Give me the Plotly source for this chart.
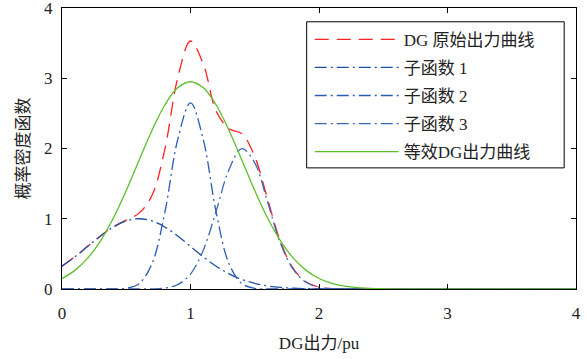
import plotly.graph_objects as go

x_pu = [0.0, 0.1, 0.2, 0.3, 0.4, 0.5, 0.6, 0.7, 0.8, 0.9,
        1.0, 1.1, 1.2, 1.3, 1.4, 1.5, 1.6, 1.7, 1.8, 1.9,
        2.0, 2.1, 2.2, 2.3, 2.4, 2.5, 2.6, 2.7, 2.8, 2.9,
        3.0, 3.1, 3.2, 3.3, 3.4, 3.5, 3.6, 3.7, 3.8, 3.9, 4.0]

dg_original = [0.325, 0.458, 0.607, 0.755, 0.885, 0.98, 1.08, 1.33, 1.985, 3.0,
               3.53, 3.2, 2.53, 2.28, 2.21, 1.885, 1.28, 0.675, 0.29, 0.10,
               0.027, 0.006, 0.001, 0, 0, 0, 0, 0, 0, 0,
               0, 0, 0, 0, 0, 0, 0, 0, 0, 0, 0]

sub1 = [0.325, 0.458, 0.607, 0.755, 0.882, 0.969, 1.0, 0.969, 0.882, 0.755,
        0.607, 0.458, 0.325, 0.216, 0.135, 0.080, 0.044, 0.023, 0.011, 0.005,
        0.002, 0.001, 0, 0, 0, 0, 0, 0, 0, 0,
        0, 0, 0, 0, 0, 0, 0, 0, 0, 0, 0]

sub2 = [0, 0, 0, 0, 0.001, 0.010, 0.076, 0.359, 1.089, 2.122,
        2.65, 2.122, 1.089, 0.359, 0.076, 0.010, 0.001, 0, 0, 0,
        0, 0, 0, 0, 0, 0, 0, 0, 0, 0,
        0, 0, 0, 0, 0, 0, 0, 0, 0, 0, 0]

sub3 = [0, 0, 0, 0, 0, 0, 0, 0.002, 0.014, 0.062,
        0.213, 0.555, 1.111, 1.702, 1.997, 1.795, 1.236, 0.652, 0.28, 0.095,
        0.025, 0.005, 0.001, 0, 0, 0, 0, 0, 0, 0,
        0, 0, 0, 0, 0, 0, 0, 0, 0, 0, 0]

equivalent = [0.148, 0.265, 0.439, 0.686, 1.010, 1.402, 1.833, 2.257, 2.619, 2.863,
              2.95, 2.863, 2.619, 2.257, 1.833, 1.402, 1.010, 0.686, 0.439, 0.265,
              0.150, 0.081, 0.040, 0.019, 0.009, 0.004, 0.001, 0, 0, 0,
              0, 0, 0, 0, 0, 0, 0, 0, 0, 0, 0]

names = ["DG 原始出力曲线", "子函数 1", "子函数 2", "子函数 3", "等效DG出力曲线"]
x_ticks = [0, 1, 2, 3, 4]
y_ticks = [0, 1, 2, 3, 4]

FONT = "Times New Roman, Liberation Serif, Noto Sans CJK SC, serif"

series = [
    (dg_original, names[0], "#ff2020", "14px,8px"),
    (sub1, names[1], "#1f4fa8", "12px,4px,2px,4px"),
    (sub2, names[2], "#2a5cb8", "12px,4px,2px,4px"),
    (sub3, names[3], "#3a66b8", "12px,4px,2px,4px"),
    (equivalent, names[4], "#5cbf2a", "solid"),
]

fig = go.Figure()
for i, (ys, nm, col, dash) in enumerate(series):
    fig.add_trace(go.Scatter(
        x=x_pu, y=ys, name=nm, mode="lines",
        line=dict(color=col, width=1.3, dash=dash, shape="spline", smoothing=1),
        legendgroup=f"g{i}",
    ))

axis_common = dict(
    showline=True, linecolor="black", linewidth=1, mirror="ticks",
    ticks="inside", ticklen=5, tickcolor="black", showgrid=False, zeroline=False,
    tickfont=dict(family=FONT, size=17, color="#222"), automargin=False,
    ticklabeloverflow="allow",
)

# legend frame (wider than Plotly's auto-sized box)
fig.add_shape(type="rect", xref="paper", yref="paper",
              x0=0.476, x1=0.977, y0=0.431, y1=0.951,
              line=dict(color="black", width=1), fillcolor="white", layer="above")

fig.update_layout(
    width=587, height=359,
    margin=dict(l=62, r=11, t=8, b=70),
    paper_bgcolor="white", plot_bgcolor="white",
    font=dict(family=FONT, size=17, color="#222"),
    xaxis=dict(range=[0, 4], tickvals=x_ticks, ticklabelstandoff=9,
               title=dict(text="DG出力/pu", font=dict(family=FONT, size=17), standoff=14),
               **axis_common),
    yaxis=dict(range=[0, 4], tickvals=y_ticks, ticklabelstandoff=5,
               title=dict(text="概率密度函数", font=dict(family=FONT, size=17), standoff=10),
               **axis_common),
    legend=dict(x=0.482, y=0.951, xanchor="left", yanchor="top",
                bgcolor="rgba(0,0,0,0)", borderwidth=0,
                font=dict(family=FONT, size=17, color="#222"),
                itemwidth=84, traceorder="grouped", tracegroupgap=3),
    showlegend=True,
)

fig.write_html("out.html", config={"displayModeBar": False},
               post_script="document.body.style.margin='0';document.body.style.overflow='hidden';")
